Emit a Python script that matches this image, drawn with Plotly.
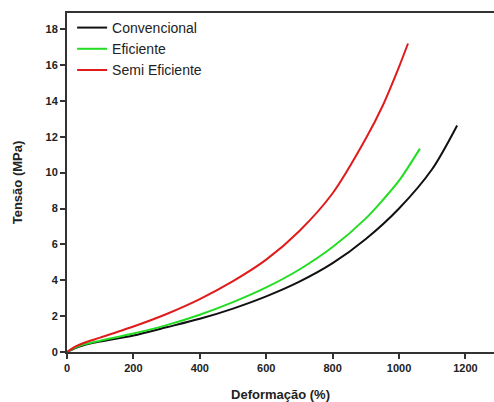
import plotly.graph_objects as go

# Data
conv_x = [0, 25, 50, 100, 200, 300, 400, 500, 600, 700, 800, 900, 1000, 1100, 1175]
conv_y = [0, 0.22, 0.38, 0.58, 0.92, 1.38, 1.85, 2.42, 3.1, 3.92, 4.95, 6.3, 8.0, 10.2, 12.63]

efic_x = [0, 25, 50, 100, 200, 300, 400, 500, 600, 700, 800, 900, 950, 1000, 1063]
efic_y = [0, 0.24, 0.42, 0.63, 1.03, 1.5, 2.08, 2.78, 3.6, 4.6, 5.85, 7.45, 8.45, 9.55, 11.34]

semi_x = [0, 25, 50, 100, 200, 300, 400, 500, 600, 700, 800, 900, 950, 1000, 1027]
semi_y = [0, 0.3, 0.5, 0.8, 1.42, 2.12, 2.95, 3.95, 5.15, 6.75, 8.85, 11.9, 13.7, 15.9, 17.2]

x_ticks = [0, 200, 400, 600, 800, 1000, 1200]
y_ticks = [0, 2, 4, 6, 8, 10, 12, 14, 16, 18]

fig = go.Figure()
fig.add_trace(go.Scatter(x=conv_x, y=conv_y, mode="lines", name="Convencional",
                         line=dict(color="#111111", width=2, shape="spline", smoothing=0.8)))
fig.add_trace(go.Scatter(x=efic_x, y=efic_y, mode="lines", name="Eficiente",
                         line=dict(color="#22dd22", width=2, shape="spline", smoothing=0.8)))
fig.add_trace(go.Scatter(x=semi_x, y=semi_y, mode="lines", name="Semi Eficiente",
                         line=dict(color="#e01b1b", width=2, shape="spline", smoothing=0.8)))

axis_font = dict(family="Liberation Sans, Arial, sans-serif", size=11, color="#222222")
title_font = dict(family="Liberation Sans, Arial, sans-serif", size=13, color="#222222")

fig.update_layout(
    width=494, height=402,
    margin=dict(l=67, r=0, t=13, b=50, autoexpand=False),
    paper_bgcolor="white", plot_bgcolor="white",
    showlegend=True,
    legend=dict(x=0.012, y=1.003, xanchor="left", yanchor="top",
                bgcolor="rgba(0,0,0,0)",
                font=dict(family="Liberation Sans, Arial, sans-serif", size=14, color="#222222"),
                itemwidth=30, tracegroupgap=0),
    xaxis=dict(range=[0, 1286], tickvals=x_ticks, ticktext=[f"<b>{v}</b>" for v in x_ticks],
               ticks="outside", ticklen=5, tickwidth=1.5, tickcolor="#333",
               showline=True, linecolor="#333", linewidth=2, mirror=True,
               showgrid=False, zeroline=False, tickfont=axis_font, automargin=False,
               title=dict(text="<b>Deformação (%)</b>", standoff=18, font=title_font)),
    yaxis=dict(range=[0, 18.9], tickvals=y_ticks, ticktext=[f"<b>{v}</b>" for v in y_ticks],
               ticks="outside", ticklen=5, tickwidth=1.5, tickcolor="#333",
               showline=True, linecolor="#333", linewidth=2, mirror=False,
               showgrid=False, zeroline=False, tickfont=axis_font, automargin=False,
               title=dict(text="<b>Tensão (MPa)</b>", standoff=20, font=title_font)),
)

fig.write_html("out.html",
               config={"displayModeBar": False},
               post_script="document.body.style.margin='0';"
                           "document.documentElement.style.overflow='hidden';")
